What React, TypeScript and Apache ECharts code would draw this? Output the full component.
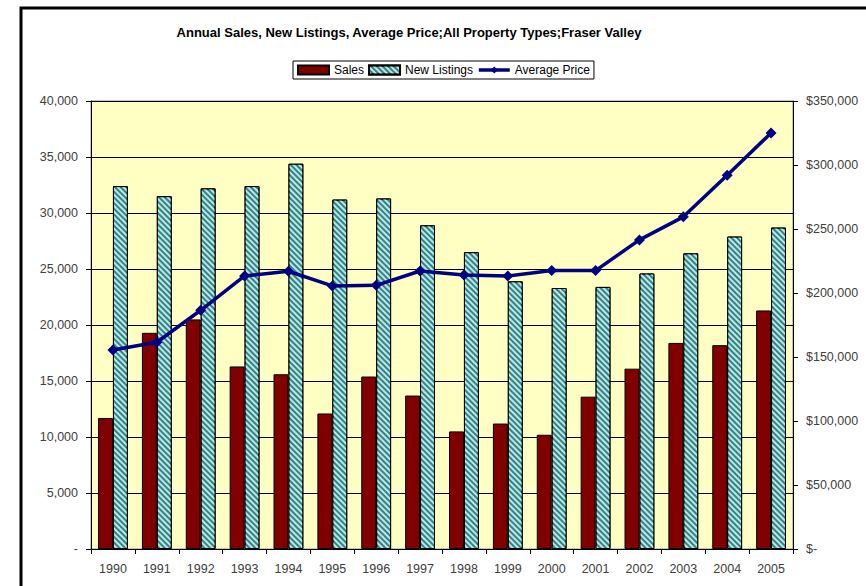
import React, { useEffect, useRef } from "react";
import * as echarts from "echarts";

const years = ["1990","1991","1992","1993","1994","1995","1996","1997","1998","1999","2000","2001","2002","2003","2004","2005"];
const sales = [11700,19300,20500,16300,15600,12100,15400,13700,10500,11200,10200,13600,16100,18400,18200,21300];
const newListings = [32400,31500,32200,32400,34400,31200,31300,28900,26500,23900,23300,23400,24600,26400,27900,28700];
const avgPrice = [155500,161500,186500,213300,217000,205500,206000,217200,214000,213300,217500,217500,241500,259500,292000,325000];

const FONT = "'Liberation Sans', Arial, sans-serif";

export default function App() {
  const ref = useRef<HTMLDivElement>(null);
  useEffect(() => {
    const chart = echarts.init(ref.current!, null, { renderer: "svg" });
    const fmtLeft = (v: number) => (v === 0 ? "-" : v.toLocaleString("en-US"));
    const fmtRight = (v: number) => (v === 0 ? "$-" : "$" + v.toLocaleString("en-US"));
    chart.setOption({
      animation: false,
      backgroundColor: "#ffffff",
      title: {
        text: "Annual Sales, New Listings, Average Price;All Property Types;Fraser Valley",
        left: 404,
        top: 21,
        textAlign: "center",
        textStyle: { fontFamily: FONT, fontSize: 13, fontWeight: "bold", color: "#000" },
      },
      legend: {
        top: 61,
        left: 293,
        itemWidth: 31,
        itemHeight: 9,
        itemGap: 4,
        padding: [3, 4, 3, 4],
        borderColor: "#000",
        borderWidth: 1,
        textStyle: { fontFamily: FONT, fontSize: 12, color: "#000" },
        data: [
          { name: "Sales", icon: "rect" },
          { name: "New Listings", icon: "rect" },
          { name: "Average Price", lineStyle: { width: 3.5 } },
        ],
      },
      graphic: [
        {
          type: "rect",
          shape: { x: 21, y: 8, width: 900, height: 700 },
          style: { fill: "none", stroke: "#000", lineWidth: 3 },
          z: 100,
        },
      ],
      grid: {
        left: 91,
        right: 73,
        top: 101,
        bottom: 37,
        show: true,
        backgroundColor: "#FFFFC4",
        borderColor: "#888",
        borderWidth: 1,
      },
      xAxis: {
        type: "category",
        data: years,
        axisLine: { lineStyle: { color: "#000" } },
        axisTick: { show: true, length: 5, lineStyle: { color: "#000" } },
        axisLabel: { fontFamily: FONT, fontSize: 12.5, color: "#404040", margin: 13 },
      },
      yAxis: [
        {
          type: "value",
          min: 0,
          max: 40000,
          interval: 5000,
          axisLine: { show: true, lineStyle: { color: "#000" } },
          axisTick: { show: true, length: 5, lineStyle: { color: "#000" } },
          axisLabel: { fontFamily: FONT, fontSize: 12.5, color: "#404040", margin: 13, formatter: fmtLeft },
          splitLine: { show: true, lineStyle: { color: "#000", width: 1 } },
        },
        {
          type: "value",
          min: 0,
          max: 350000,
          interval: 50000,
          position: "right",
          axisLine: { show: true, lineStyle: { color: "#000" } },
          axisTick: { show: true, length: 5, lineStyle: { color: "#000" } },
          axisLabel: { fontFamily: FONT, fontSize: 12.5, color: "#404040", margin: 13, formatter: fmtRight },
          splitLine: { show: false },
        },
      ],
      series: [
        {
          name: "Sales",
          type: "bar",
          data: sales,
          barGap: "0%",
          barCategoryGap: "32%",
          itemStyle: { color: "#800000", borderColor: "#000", borderWidth: 1 },
        },
        {
          name: "New Listings",
          type: "bar",
          data: newListings,
          barGap: "0%",
          barCategoryGap: "32%",
          itemStyle: {
            color: "#26898a",
            borderColor: "#000",
            borderWidth: 1,
            decal: {
              symbol: "rect",
              symbolSize: 1,
              color: "rgba(255,255,255,0.75)",
              dashArrayX: [1, 0],
              dashArrayY: [2, 2],
              rotation: Math.PI / 4,
            },
          },
        },
        {
          name: "Average Price",
          type: "line",
          yAxisIndex: 1,
          data: avgPrice,
          symbol: "diamond",
          symbolSize: 11,
          lineStyle: { color: "#000080", width: 3.5 },
          itemStyle: { color: "#000080" },
          z: 5,
        },
      ],
    });
    return () => chart.dispose();
  }, []);
  return <div ref={ref} style={{ position: "absolute", left: 0, top: 0, width: 866, height: 586 }} />;
}
